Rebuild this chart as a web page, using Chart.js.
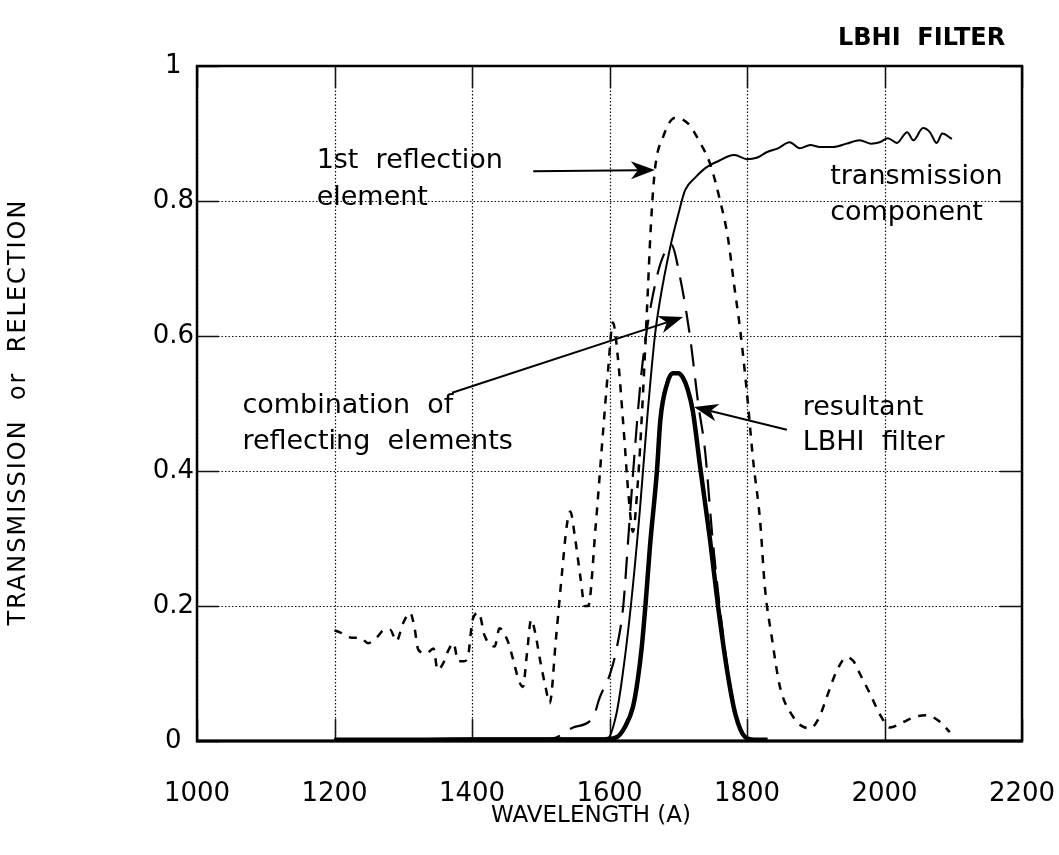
<!DOCTYPE html>
<html><head><meta charset="utf-8">
<script src="https://cdn.jsdelivr.net/npm/chart.js@4"></script>
<style>html,body{margin:0;padding:0;background:#fff}</style>
</head><body>
<canvas id="c" width="1059" height="855"></canvas>
<script>
// ---- axis ticks ----
const xTicks = [1000, 1200, 1400, 1600, 1800, 2000, 2200];
const yTicks = [0, 0.2, 0.4, 0.6, 0.8, 1];
const yTickLabels = ['0', '0.2', '0.4', '0.6', '0.8', '1'];

// ---- transmission component (thin solid) ----
const transWave = [1200,1300,1400,1500,1580,1598,1610,1618,1630,1644,1655,1666,1673,1688,1700,1710,1725,1735,1746,1760,1772,1782,1800,1814,1830,1845,1862,1877,1892,1906,1925,1945,1964,1980,1993,2005,2018,2033,2042,2056,2066,2076,2084,2098];
const transVal  = [0.003,0.003,0.004,0.004,0.004,0.005,0.04,0.09,0.19,0.34,0.48,0.6,0.65,0.73,0.78,0.816,0.835,0.845,0.853,0.86,0.866,0.868,0.862,0.864,0.873,0.878,0.887,0.878,0.883,0.88,0.88,0.885,0.89,0.885,0.887,0.893,0.886,0.902,0.89,0.908,0.902,0.886,0.9,0.892];

// ---- 1st reflection element (short dashes) ----
const reflWave = [1200,1208,1225,1237,1249,1262,1273,1281,1290,1300,1310,1316,1322,1334,1344,1350,1358,1366,1373,1380,1388,1394,1401,1410,1418,1433,1440,1452,1460,1468,1474,1480,1486,1492,1499,1507,1513,1522,1531,1538,1543,1550,1558,1564,1569,1580,1590,1598,1605,1612,1620,1628,1634,1641,1648,1655,1660,1666,1678,1695,1714,1732,1746,1761,1772,1782,1790,1800,1809,1819,1826,1836,1848,1867,1880,1892,1905,1916,1931,1945,1955,1964,1979,1993,2008,2027,2045,2062,2081,2095];
const reflVal  = [0.164,0.161,0.153,0.153,0.145,0.154,0.165,0.165,0.148,0.175,0.19,0.17,0.135,0.13,0.137,0.105,0.115,0.135,0.145,0.118,0.118,0.125,0.18,0.19,0.157,0.14,0.167,0.148,0.12,0.09,0.08,0.13,0.18,0.16,0.12,0.08,0.056,0.15,0.25,0.32,0.34,0.3,0.24,0.2,0.2,0.32,0.45,0.55,0.62,0.57,0.47,0.36,0.31,0.38,0.5,0.65,0.76,0.846,0.895,0.923,0.915,0.886,0.856,0.8,0.747,0.67,0.61,0.515,0.415,0.327,0.228,0.154,0.08,0.036,0.022,0.019,0.035,0.065,0.105,0.124,0.118,0.1,0.07,0.04,0.02,0.028,0.036,0.038,0.028,0.013];

// ---- combination of reflecting elements (long dashes) ----
const combWave = [1200,1400,1500,1518,1547,1576,1586,1601,1611,1620,1628,1636,1645,1653,1663,1675,1690,1702,1717,1729,1739,1749,1758,1770,1783,1797,1810];
const combVal  = [0.003,0.003,0.003,0.004,0.02,0.035,0.065,0.1,0.14,0.2,0.31,0.42,0.53,0.6,0.66,0.71,0.735,0.69,0.6,0.5,0.43,0.31,0.22,0.12,0.045,0.008,0.003];

// ---- resultant LBHI filter (thick solid) ----
const resWave = [1200,1400,1590,1611,1622,1634,1641,1647,1653,1659,1669,1674,1684,1692,1700,1707,1714,1721,1732,1746,1758,1771,1783,1797,1810,1830];
const resVal  = [0.002,0.002,0.002,0.006,0.02,0.05,0.09,0.14,0.21,0.29,0.4,0.476,0.53,0.545,0.545,0.538,0.52,0.49,0.405,0.3,0.199,0.105,0.04,0.006,0.002,0.002];

// ---- annotations (data coordinates: wavelength, value) ----
const noteTexts = ['1st  reflection', 'element', 'transmission', 'component', 'combination  of', 'reflecting  elements', 'resultant', 'LBHI  filter'];
const noteWave  = [1174, 1174, 1921, 1921, 1066, 1066, 1881, 1881];
const noteVal   = [0.849, 0.794, 0.825, 0.772, 0.486, 0.433, 0.483, 0.431];
const arrowFromWave = [1489, 1371, 1858];
const arrowFromVal  = [0.844, 0.516, 0.461];
const arrowToWave   = [1666, 1707, 1723];
const arrowToVal    = [0.846, 0.628, 0.495];

const pts = (ws, vs) => ws.map((w, i) => ({x: w, y: vs[i]}));

const FONT = '"DejaVu Sans", sans-serif';

const framePlugin = {
  id: 'frame',
  beforeDatasetsDraw(chart) {
    const {ctx, chartArea: a, scales: {x, y}} = chart;
    ctx.save();
    ctx.strokeStyle = '#111';
    ctx.lineWidth = 1.2;
    ctx.setLineDash([1.5, 2]);
    xTicks.forEach(t => {
      const px = Math.round(x.getPixelForValue(t)) + 0.5;
      ctx.beginPath(); ctx.moveTo(px, a.top); ctx.lineTo(px, a.bottom); ctx.stroke();
    });
    yTicks.forEach(t => {
      const py = Math.round(y.getPixelForValue(t)) + 0.5;
      ctx.beginPath(); ctx.moveTo(a.left, py); ctx.lineTo(a.right, py); ctx.stroke();
    });
    // inner solid ticks
    ctx.setLineDash([]);
    ctx.lineWidth = 1.5;
    const L = 22;
    xTicks.forEach(t => {
      const px = Math.round(x.getPixelForValue(t)) + 0.5;
      ctx.beginPath(); ctx.moveTo(px, a.bottom); ctx.lineTo(px, a.bottom - L); ctx.stroke();
      ctx.beginPath(); ctx.moveTo(px, a.top); ctx.lineTo(px, a.top + L); ctx.stroke();
    });
    yTicks.forEach(t => {
      const py = Math.round(y.getPixelForValue(t)) + 0.5;
      ctx.beginPath(); ctx.moveTo(a.left, py); ctx.lineTo(a.left + L, py); ctx.stroke();
      ctx.beginPath(); ctx.moveTo(a.right, py); ctx.lineTo(a.right - L, py); ctx.stroke();
    });
    ctx.restore();
  },
  afterDatasetsDraw(chart) {
    const {ctx, chartArea: a} = chart;
    ctx.save();
    ctx.strokeStyle = '#000';
    ctx.setLineDash([]);
    ctx.lineWidth = 2.5;
    ctx.strokeRect(a.left, a.top, a.right - a.left, a.bottom - a.top);
    ctx.lineWidth = 3;
    ctx.beginPath(); ctx.moveTo(a.left - 1, a.bottom); ctx.lineTo(a.right + 1, a.bottom); ctx.stroke();
    ctx.restore();
  },
  afterDraw(chart) {
    const {ctx, scales: {x, y}} = chart;
    ctx.save();
    ctx.fillStyle = '#000';
    ctx.strokeStyle = '#000';
    // notes
    ctx.font = '27px ' + FONT;
    ctx.textAlign = 'left';
    ctx.textBaseline = 'alphabetic';
    noteTexts.forEach((t, i) => {
      ctx.fillText(t, x.getPixelForValue(noteWave[i]), y.getPixelForValue(noteVal[i]));
    });
    // arrows
    arrowFromWave.forEach((w, i) => {
      const x1 = x.getPixelForValue(w), y1 = y.getPixelForValue(arrowFromVal[i]);
      const x2 = x.getPixelForValue(arrowToWave[i]), y2 = y.getPixelForValue(arrowToVal[i]);
      const ang = Math.atan2(y2 - y1, x2 - x1);
      const hl = 24, hw = 9, notch = 7;
      ctx.lineWidth = 2;
      ctx.beginPath();
      ctx.moveTo(x1, y1);
      ctx.lineTo(x2 - Math.cos(ang) * (hl - notch), y2 - Math.sin(ang) * (hl - notch));
      ctx.stroke();
      ctx.save();
      ctx.translate(x2, y2);
      ctx.rotate(ang);
      ctx.beginPath();
      ctx.moveTo(0, 0);
      ctx.lineTo(-hl, -hw);
      ctx.lineTo(-hl + notch, 0);
      ctx.lineTo(-hl, hw);
      ctx.closePath();
      ctx.fill();
      ctx.restore();
    });
    // title
    ctx.font = 'bold 24px ' + FONT;
    ctx.fillText('LBHI  FILTER', 838, 45);
    // axis titles
    ctx.font = '23px ' + FONT;
    ctx.textAlign = 'center';
    ctx.textBaseline = 'middle';
    ctx.fillText('WAVELENGTH (A)', 591, 816);
    ctx.save();
    ctx.translate(19, 412);
    ctx.rotate(-Math.PI / 2);
    ctx.font = '24px ' + FONT;
    try { ctx.letterSpacing = '2px'; } catch (e) {}
    ctx.fillText('TRANSMISSION  or  RELECTION', 0, 0);
    ctx.restore();
    ctx.restore();
  }
};

const base = {pointRadius: 0, borderColor: '#000', fill: false, cubicInterpolationMode: 'monotone'};

new Chart(document.getElementById('c'), {
  type: 'line',
  data: {
    datasets: [
      Object.assign({label: 'transmission component', data: pts(transWave, transVal), borderWidth: 2}, base),
      Object.assign({label: '1st reflection element', data: pts(reflWave, reflVal), borderWidth: 2.5, borderDash: [8, 8]}, base),
      Object.assign({label: 'combination of reflecting elements', data: pts(combWave, combVal), borderWidth: 2.2, borderDash: [22, 12]}, base),
      Object.assign({label: 'resultant LBHI filter', data: pts(resWave, resVal), borderWidth: 4.5}, base)
    ]
  },
  options: {
    responsive: false,
    devicePixelRatio: 1,
    animation: false,
    events: [],
    layout: {padding: {top: 66, right: 37, bottom: 0, left: 0}},
    plugins: {legend: {display: false}, tooltip: {enabled: false}, title: {display: false}},
    scales: {
      x: {
        type: 'linear', min: 1000, max: 2200,
        afterBuildTicks: s => { s.ticks = xTicks.map(v => ({value: v})); },
        afterFit: s => { s.height = 114; s.paddingLeft = 0; s.paddingRight = 0; },
        grid: {display: false, drawTicks: false},
        border: {display: false},
        ticks: {color: '#000', font: {family: FONT, size: 26}, padding: 38, maxRotation: 0, autoSkip: false,
                callback: v => String(v)}
      },
      y: {
        type: 'linear', min: 0, max: 1,
        afterBuildTicks: s => { s.ticks = yTicks.map(v => ({value: v})); },
        afterFit: s => { s.width = 197; s.paddingTop = 0; s.paddingBottom = 0; },
        grid: {display: false, drawTicks: false},
        border: {display: false},
        ticks: {color: '#000', font: {family: FONT, size: 26}, padding: 3, crossAlign: 'center', autoSkip: false,
                callback: (v, i) => yTickLabels[i]}
      }
    }
  },
  plugins: [framePlugin]
});
</script>
</body></html>
